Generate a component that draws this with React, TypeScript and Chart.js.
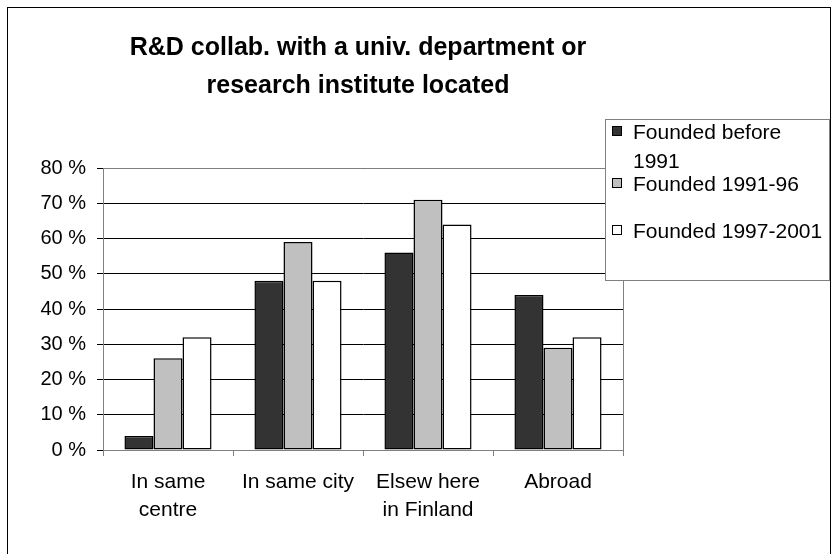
import React, { useEffect, useRef } from "react";
import { Chart, registerables } from "chart.js";

Chart.register(...registerables);

const titleLines = ["R&D collab. with a univ. department or", "research institute located"];
const categories: (string | string[])[] = [["In same", "centre"], "In same city", ["Elsew here", "in Finland"], "Abroad"];
const seriesLabels = ["Founded before 1991", "Founded 1991-96", "Founded 1997-2001"];
const foundedBefore1991 = [4, 48, 56, 44];
const founded1991to96 = [26, 59, 71, 29];
const founded1997to2001 = [32, 48, 64, 32];
const seriesColors = ["#333333", "#C0C0C0", "#FFFFFF"];
const yMin = 0;
const yMax = 80;
const yStep = 10;

const FONT = '"Liberation Sans", Arial, sans-serif';

function wrapText(ctx: CanvasRenderingContext2D, text: string, maxWidth: number): string[] {
  const words = text.split(" ");
  const lines: string[] = [];
  let cur = "";
  for (const w of words) {
    const test = cur ? cur + " " + w : w;
    if (ctx.measureText(test).width > maxWidth && cur) {
      lines.push(cur);
      cur = w;
    } else {
      cur = test;
    }
  }
  if (cur) lines.push(cur);
  return lines;
}

const decorPlugin = {
  id: "decor",
  beforeDraw(chart: any) {
    const ctx = chart.ctx as CanvasRenderingContext2D;
    ctx.save();
    ctx.fillStyle = "#ffffff";
    ctx.fillRect(0, 0, chart.width, chart.height);
    ctx.restore();
  },
  afterDraw(chart: any) {
    const ctx = chart.ctx as CanvasRenderingContext2D;
    const area = chart.chartArea;
    ctx.save();
    // plot area border
    ctx.strokeStyle = "#808080";
    ctx.lineWidth = 1;
    ctx.beginPath();
    ctx.moveTo(Math.round(area.left) + 0.5, Math.round(area.top) + 0.5);
    ctx.lineTo(Math.round(area.right) + 0.5, Math.round(area.top) + 0.5);
    ctx.lineTo(Math.round(area.right) + 0.5, Math.round(area.bottom) + 0.5);
    ctx.stroke();

    // outer frame
    ctx.strokeStyle = "#000000";
    ctx.lineWidth = 1;
    ctx.strokeRect(7.5, 7.5, 823, 600);

    // title
    ctx.fillStyle = "#000000";
    ctx.font = `bold 25px ${FONT}`;
    ctx.textAlign = "center";
    ctx.textBaseline = "alphabetic";
    const cx = 358;
    titleLines.forEach((t, i) => ctx.fillText(t, cx, 55 + i * 38));

    // legend box
    const lx = 605, ly = 119, lw = 224, lh = 161;
    ctx.fillStyle = "#ffffff";
    ctx.fillRect(lx, ly, lw, lh);
    ctx.strokeStyle = "#808080";
    ctx.lineWidth = 1;
    ctx.strokeRect(lx + 0.5, ly + 0.5, lw, lh);

    ctx.font = `21px ${FONT}`;
    ctx.textAlign = "left";
    const entryOffsets = [20, 72, 119];
    const lineH = 29;
    chart.data.datasets.forEach((ds: any, i: number) => {
      const base = ly + entryOffsets[i];
      ctx.fillStyle = ds.backgroundColor;
      ctx.fillRect(613, base - 12, 9, 9);
      ctx.strokeStyle = "#000000";
      ctx.lineWidth = 1;
      ctx.strokeRect(612.5, base - 12.5, 9, 9);
      ctx.fillStyle = "#000000";
      const lines = wrapText(ctx, ds.label, 194);
      lines.forEach((ln, j) => ctx.fillText(ln, 633, base + j * lineH));
    });
    ctx.restore();
  },
};

export default function App() {
  const canvasRef = useRef<HTMLCanvasElement | null>(null);

  useEffect(() => {
    if (!canvasRef.current) return;
    const datasets = [foundedBefore1991, founded1991to96, founded1997to2001].map((data, i) => ({
      label: seriesLabels[i],
      data,
      backgroundColor: seriesColors[i],
      borderColor: "#000000",
      borderWidth: 1.5,
      borderSkipped: false as const,
      categoryPercentage: 0.67,
      barPercentage: 1,
    }));
    const chart = new Chart(canvasRef.current, {
      type: "bar",
      data: { labels: categories, datasets },
      options: {
        animation: false,
        responsive: false,
        maintainAspectRatio: false,
        layout: { padding: { top: 168, right: 210, left: 0, bottom: 0 } },
        plugins: {
          legend: { display: false },
          title: { display: false },
          tooltip: { enabled: false },
        },
        scales: {
          x: {
            grid: { display: true, drawOnChartArea: false, offset: true, tickLength: 6, color: "#808080" },
            border: { color: "#808080", width: 1 },
            ticks: {
              font: { family: FONT, size: 21, lineHeight: 1.35 },
              color: "#000000",
              padding: 12,
              maxRotation: 0,
              autoSkip: false,
            },
            afterFit: (s: any) => {
              s.height = 104;
            },
          },
          y: {
            min: yMin,
            max: yMax,
            ticks: {
              stepSize: yStep,
              callback: (v: any) => `${v} %`,
              font: { family: FONT, size: 20 },
              color: "#000000",
              padding: 11,
            },
            grid: { color: "#000000", tickLength: 6, tickColor: "#000000" },
            border: { color: "#808080", width: 1 },
            afterFit: (s: any) => {
              s.width = 103;
            },
          },
        },
      },
      plugins: [decorPlugin],
    });
    return () => chart.destroy();
  }, []);

  return (
    <div style={{ position: "absolute", left: 0, top: 0, width: 833, height: 554, background: "#fff" }}>
      <canvas ref={canvasRef} width={833} height={554} style={{ display: "block" }} />
    </div>
  );
}
